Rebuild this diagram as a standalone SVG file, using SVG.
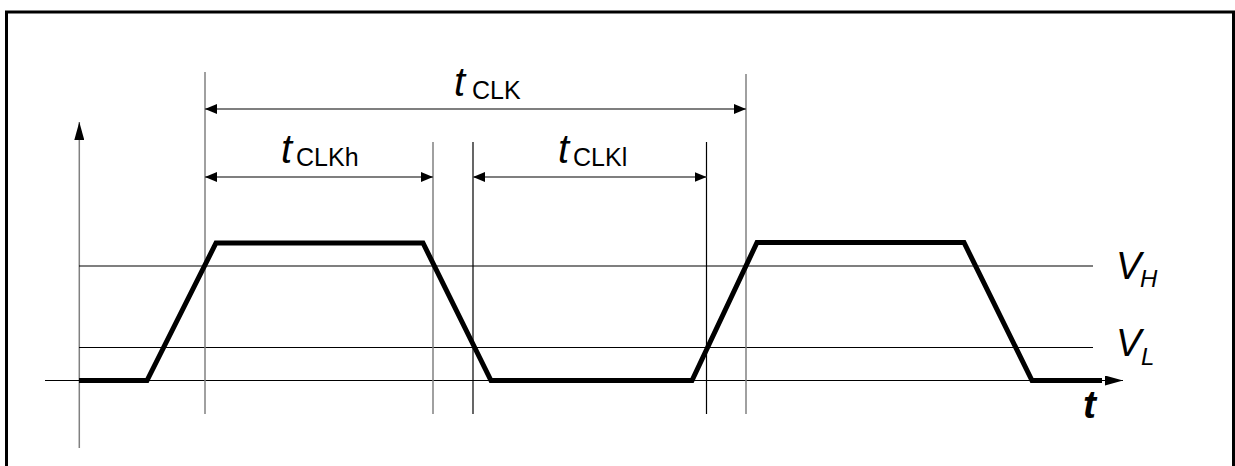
<svg xmlns="http://www.w3.org/2000/svg" width="1235" height="466" viewBox="0 0 1235 466">
<style>
.bg{fill:#fff}
.frame{fill:none;stroke:#000;stroke-width:3}
.thin{stroke:#000;stroke-width:1.2;fill:none}
.gray{stroke:#808080;stroke-width:1.5;fill:none}
.dim{stroke:#555;stroke-width:1.3;fill:none}
.wave{stroke:#000;stroke-width:5;fill:none;stroke-linejoin:miter}
.lbl{font-family:"Liberation Sans",Arial,sans-serif;fill:#000}
.it{font-style:italic;font-size:40px}
.sub{font-size:25px}
.vv{font-style:italic;font-size:38px}
.subi{font-style:italic;font-size:24px}
.tb{font-style:italic;font-weight:bold;font-size:39px}
</style>
<defs>
<marker id="ah" viewBox="0 0 12 10" refX="12" refY="5" markerWidth="12" markerHeight="10" markerUnits="userSpaceOnUse" orient="auto-start-reverse">
<path d="M0,0 L12,5 L0,10 z" fill="#000"/>
</marker>
<marker id="ax" viewBox="0 0 18 10" refX="18" refY="5" markerWidth="18" markerHeight="10" markerUnits="userSpaceOnUse" orient="auto">
<path d="M0,0 L18,5 L0,10 z" fill="#000"/>
</marker>
</defs>
<rect class="bg" x="0" y="0" width="1235" height="466"/>
<rect class="frame" x="6.5" y="12" width="1227" height="470"/>
<g id="axes">
<line class="gray" x1="79.3" y1="448" x2="79.3" y2="122" marker-end="url(#ax)"/>
<line class="thin" x1="45" y1="380.5" x2="1123" y2="380.5" marker-end="url(#ax)"/>
<line class="thin" x1="79" y1="266" x2="1093" y2="266"/>
<line class="thin" x1="79" y1="347.5" x2="1093" y2="347.5"/>
</g>
<g id="guides">
<line class="gray" x1="205" y1="72" x2="205" y2="414"/>
<line class="gray" x1="433" y1="142" x2="433" y2="414"/>
<line class="thin" x1="473" y1="142" x2="473" y2="414"/>
<line class="thin" x1="706.5" y1="142" x2="706.5" y2="414"/>
<line class="gray" x1="746" y1="74" x2="746" y2="414"/>
</g>
<g id="wave">
<polyline class="wave" points="79,380.5 147,380.5 216,243 423,243 491,380.5 692,380.5 757,242.5 964,242.5 1032,380.5 1102,380.5"/>
</g>
<g id="connectors">
<line class="dim" x1="205" y1="109" x2="746" y2="109" marker-start="url(#ah)" marker-end="url(#ah)"/>
<line class="dim" x1="205" y1="177" x2="433" y2="177" marker-start="url(#ah)" marker-end="url(#ah)"/>
<line class="dim" x1="473" y1="177" x2="706.5" y2="177" marker-start="url(#ah)" marker-end="url(#ah)"/>
</g>
<g id="label-tCLK">
<text class="lbl it" x="454" y="96">t</text>
<text class="lbl sub" x="472" y="99">CLK</text>
</g>
<g id="label-tCLKh">
<text class="lbl it" x="281" y="163">t</text>
<text class="lbl sub" x="296" y="166">CLKh</text>
</g>
<g id="label-tCLKl">
<text class="lbl it" x="558" y="163">t</text>
<text class="lbl sub" x="573" y="166">CLKl</text>
</g>
<g id="label-VH">
<text class="lbl vv" x="1116" y="279">V</text>
<text class="lbl subi" x="1140" y="287">H</text>
</g>
<g id="label-VL">
<text class="lbl vv" x="1116" y="356">V</text>
<text class="lbl subi" x="1141" y="365">L</text>
</g>
<g id="label-t">
<text class="lbl tb" x="1083" y="418">t</text>
</g>
</svg>
